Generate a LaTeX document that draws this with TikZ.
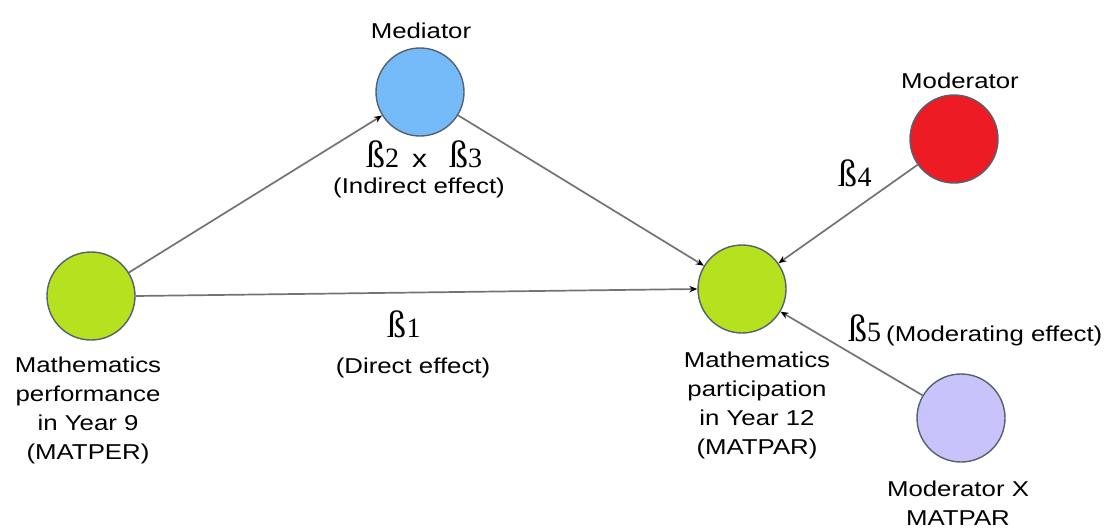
\documentclass[tikz,border=0pt]{standalone}
\usepackage{fontspec}
\setmainfont[FakeStretch=1.2]{Liberation Sans}
\newfontfamily\betafont{Liberation Serif}
\usetikzlibrary{arrows.meta}
\definecolor{bluefill}{RGB}{117,187,250}
\definecolor{greenfill}{RGB}{181,225,30}
\definecolor{redfill}{RGB}{237,28,36}
\definecolor{purplefill}{RGB}{200,195,250}
\definecolor{rimcol}{RGB}{85,98,112}
\definecolor{edgecol}{RGB}{115,115,115}
\newcommand\bta[1]{{\fontsize{38}{38}\betafont ß}{\fontsize{28}{28}\betafont #1}}
\begin{document}
\begin{tikzpicture}[x=1pt,y=-1pt,
  var/.style={circle,draw=rimcol,line width=1.4pt,minimum size=88pt,inner sep=0pt},
  lbl/.style={anchor=base,inner sep=0pt,font=\fontsize{21.5}{29}\selectfont,align=center},
  path/.style={draw=edgecol,line width=1.7pt,-{Stealth[length=8pt,width=6.5pt,black]}}]
\useasboundingbox (0,0) rectangle (1107,527);
\fill[white] (0,0) rectangle (1107,527);
% circles
\node[var,fill=bluefill] (med) at (420,92) {};
\node[var,fill=greenfill] (matper) at (91,296) {};
\node[var,fill=greenfill] (matpar) at (742,289) {};
\node[var,fill=redfill] (mod) at (954,139) {};
\node[var,fill=purplefill] (modx) at (961,418) {};
% connectors
\draw[path] (matper) -- (med);
\draw[path] (matper.east) -- (matpar.west);
\draw[path] (med) -- (matpar);
\draw[path] (mod) -- (matpar);
\draw[path] (modx) -- (matpar);
% labels
\node[lbl] (tmed) at (421,38) {Mediator};
\node[lbl] (tmod) at (960,88) {Moderator};
\node[lbl] (tmatper) at (88,459) {Mathematics\\performance\\in Year 9\\(MATPER)};
\node[lbl] (tmatpar) at (757,454) {Mathematics\\participation\\in Year 12\\(MATPAR)};
\node[lbl] (tmodx) at (958,525) {Moderator X\\MATPAR};
\node[anchor=base,inner sep=0pt] (b23) at (424,167) {\bta{2}\hspace{13pt}{\fontsize{25}{29}\selectfont x}\hspace{22pt}\bta{3}};
\node[lbl] (tind) at (419,193) {(Indirect effect)};
\node[anchor=base,inner sep=0pt] (b1) at (404,337) {\bta{1}};
\node[lbl] (tdir) at (413,373) {(Direct effect)};
\node[anchor=base,inner sep=0pt] (b4) at (855,186) {\bta{4}};
\node[anchor=base west,inner sep=0pt] (b5) at (848,341) {\bta{5}\hspace{5pt}{\fontsize{21.5}{29}\selectfont(Moderating effect)}};
\end{tikzpicture}
\end{document}
